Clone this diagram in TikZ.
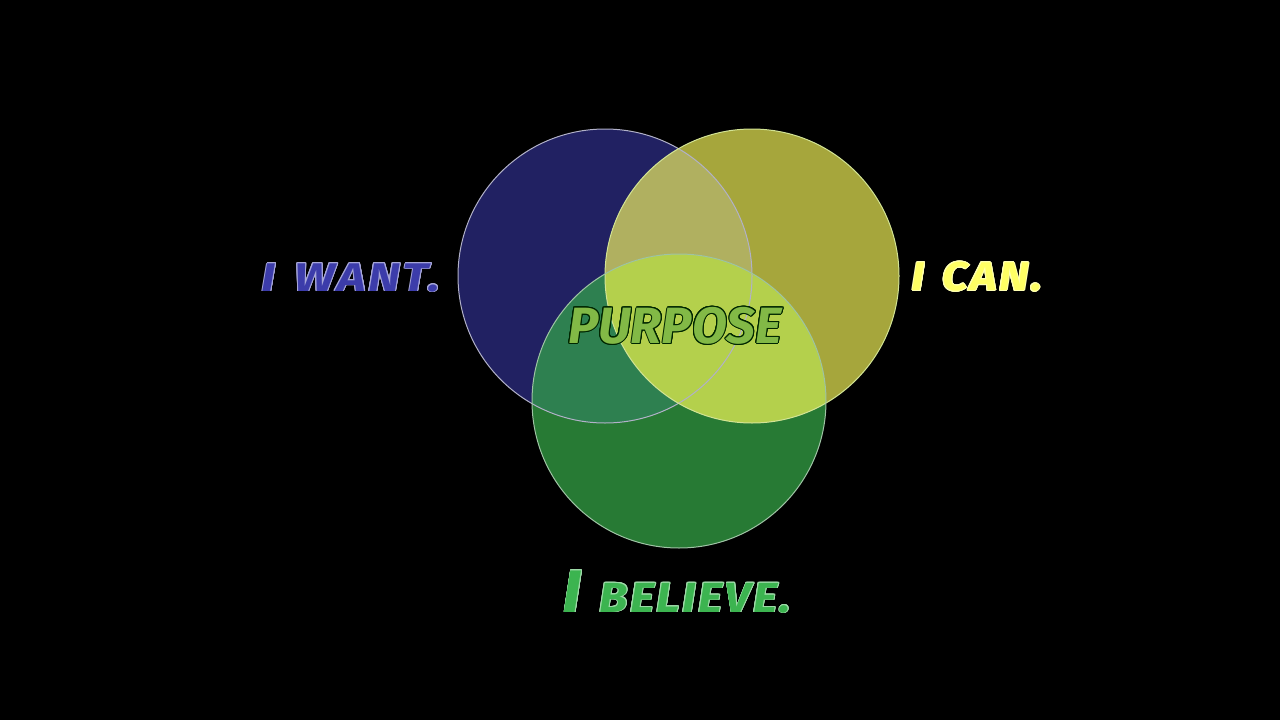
\documentclass[tikz,border=0pt]{standalone}
\usepackage{fontspec}
\usepackage{contour}
\newfontfamily\brush{Fira Sans}[LetterSpace=5]
\newfontfamily\brushp{Fira Sans}
\definecolor{cB}{RGB}{33,33,98}
\definecolor{cY}{RGB}{166,166,60}
\definecolor{cG}{RGB}{39,122,52}
\definecolor{cBY}{RGB}{176,176,96}
\definecolor{cYG}{RGB}{180,208,76}
\definecolor{cBG}{RGB}{46,128,80}
\definecolor{tB}{RGB}{60,60,170}
\definecolor{tY}{RGB}{255,255,100}
\definecolor{tG}{RGB}{60,180,80}
\definecolor{tP}{RGB}{130,185,70}
\tikzset{
  ring/.style={draw=#1, line width=1pt},
  lbl/.style={font=\brush\bfseries\itshape, inner sep=0pt},
}
\begin{document}
\begin{tikzpicture}[x=1pt,y=-1pt]
\fill[black] (0,0) rectangle (1280,720);
\useasboundingbox (0,0) rectangle (1280,720);
\coordinate (cb) at (605,276);
\coordinate (cy) at (752,276);
\coordinate (cg) at (679,401);
\def\R{147}
\fill[cB] (cb) circle (\R);
\fill[cY] (cy) circle (\R);
\fill[cG] (cg) circle (\R);
\begin{scope}
  \clip (cb) circle (\R);
  \fill[cBY] (cy) circle (\R);
  \fill[cBG] (cg) circle (\R);
\end{scope}
\begin{scope}
  \clip (cy) circle (\R);
  \fill[cYG] (cg) circle (\R);
\end{scope}
\draw[ring=white!65!cB] (cb) circle (\R);
\draw[ring=white!40!cYG] (cy) circle (\R);
\draw[ring=white!55!cG] (cg) circle (\R);
\contourlength{0.8pt}
\node[lbl, font=\brush\bfseries\itshape\fontsize{40}{40}\selectfont] (want) at (351,278)
  {\scalebox{1.22}[1]{\contour{white!55!tB}{\textcolor{tB}{I\hspace{4pt} WANT.}}}};
\node[lbl, font=\brush\bfseries\itshape\fontsize{40}{40}\selectfont] (can) at (977,277)
  {\scalebox{1.14}[1]{\contour{white!50!tY}{\textcolor{tY}{I\hspace{4pt} CAN.}}}};
\node[lbl, font=\brush\bfseries\itshape\fontsize{42}{42}\selectfont, anchor=base] (believe) at (677,612)
  {\scalebox{1.11}[1]{\contour{white!50!tG}{\textcolor{tG}{{\fontsize{60}{60}\selectfont I}\hspace{4pt} BELIEVE.}}}};
\contourlength{1pt}
\node[lbl, font=\brushp\bfseries\itshape\fontsize{51}{51}\selectfont] (purpose) at (675,326)
  {\contour{black!85!green}{\textcolor{tP}{PURPOSE}}};
\end{tikzpicture}
\end{document}
